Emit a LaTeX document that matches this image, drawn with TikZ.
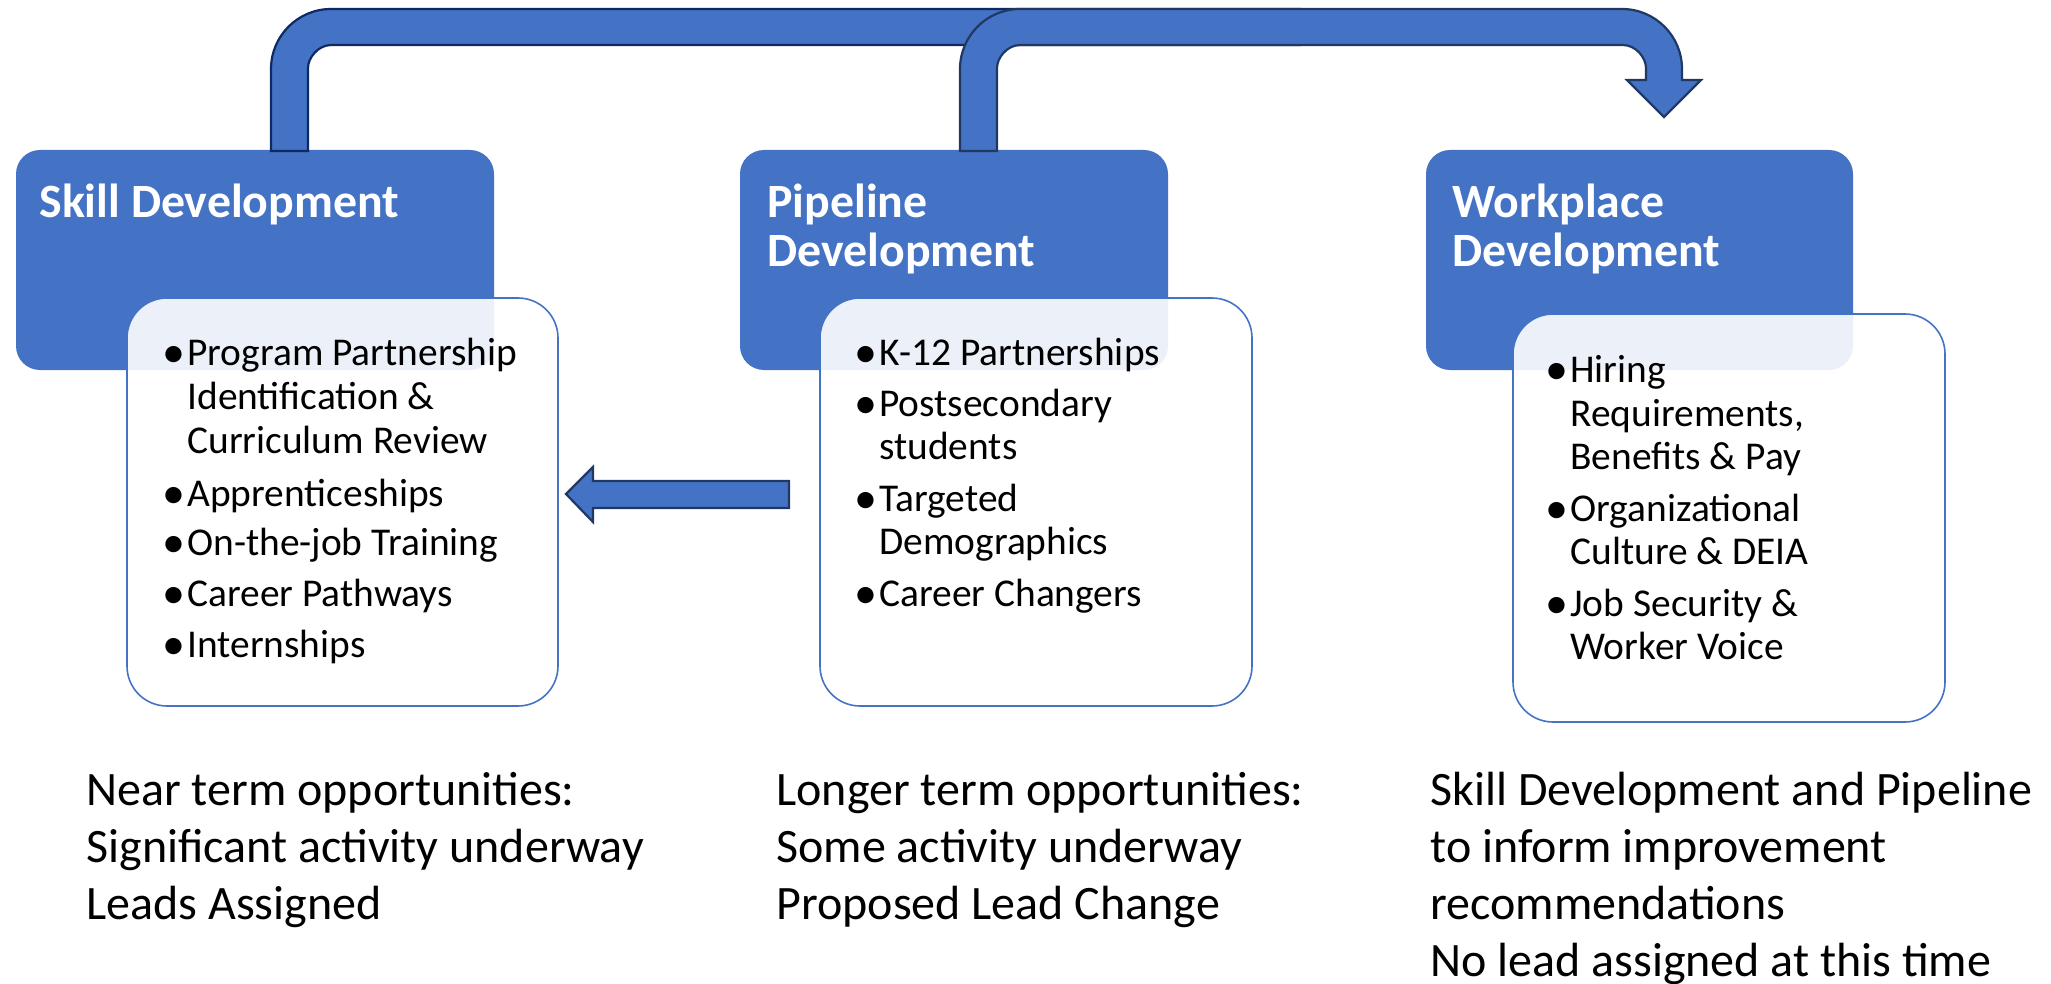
\documentclass[tikz,border=0pt]{standalone}
\usepackage{fontspec}
\setmainfont{Carlito}
\definecolor{blu}{HTML}{4472C4}
\definecolor{navA}{HTML}{0E2A62}
\definecolor{navB}{HTML}{203864}
\tikzset{
  bluebox/.style={rectangle, fill=blu, draw=none, rounded corners=12pt, inner sep=0pt},
  whitebox/.style={rectangle, fill=white, fill opacity=0.9, draw=blu, line width=0.8pt, rounded corners=20pt, inner sep=0pt},
  blockarrow/.style={fill=blu, line width=1.1pt, line join=miter},
  ttl/.style={anchor=base west, inner sep=0pt, text=white, font=\fontsize{23.9}{26}\selectfont\bfseries},
  bul/.style={anchor=base west, inner sep=0pt, font=\fontsize{19.7}{22}\selectfont},
  dot/.style={anchor=base west, inner sep=0pt, font=\fontsize{23}{24}\selectfont},
  note/.style={anchor=base west, inner sep=0pt, font=\fontsize{24}{28}\selectfont}
}
\begin{document}
\begin{tikzpicture}[x=0.5pt,y=-0.5pt]
\useasboundingbox (0,0) rectangle (2051,984);
% blue header boxes
\node[bluebox, minimum width=239pt, minimum height=110pt] (b1) at (255,260) {};
\node[bluebox, minimum width=214pt, minimum height=110pt] (b2) at (954,260) {};
\node[bluebox, minimum width=213.5pt, minimum height=110pt] (b3) at (1639.5,260) {};
% white content boxes
\node[whitebox, minimum width=215.5pt, minimum height=204pt] (w1) at (342.5,502) {};
\node[whitebox, minimum width=216pt, minimum height=204pt] (w2) at (1036,502) {};
\node[whitebox, minimum width=216pt, minimum height=204pt] (w3) at (1729,518) {};
% top bent arrow A (from Skill Development)
\draw[blockarrow, draw=navA] (271,151) -- (271,69) .. controls (271,35.9) and (297.9,9) .. (331,9)
  -- (1300,9) -- (1300,45) -- (331,45) .. controls (318.3,45) and (308,57.7) .. (308,68) -- (308,151) -- cycle;
% top bent arrow B (from Pipeline Development to Workplace Development)
\draw[blockarrow, draw=navB] (960,151) -- (960,69) .. controls (960,35.9) and (986.9,9) .. (1020,9)
  -- (1622,9) .. controls (1655.1,9) and (1682,35.9) .. (1682,69) -- (1682,80) -- (1701,80)
  -- (1664,117) -- (1627,80) -- (1646,80) -- (1646,68) .. controls (1646,57.7) and (1635.7,45) .. (1623,45)
  -- (1020,45) .. controls (1007.3,45) and (997,57.7) .. (997,68) -- (997,151) -- cycle;
% left arrow between boxes
\draw[blockarrow, draw=navB] (566,494) -- (593,467) -- (593,481) -- (789,481) -- (789,508)
  -- (593,508) -- (593,522) -- cycle;
% titles
\node[ttl] (t1) at (39,218) {Skill Development};
\node[ttl] (t2a) at (767,218) {Pipeline};
\node[ttl] (t2b) at (767,267) {Development};
\node[ttl] (t3a) at (1452,218) {Workplace};
\node[ttl] (t3b) at (1452,267) {Development};
% bullets box 1
\node[dot] (d11) at (162,367) {•};
\node[bul] (l11) at (187,365) {Program Partnership};
\node[bul] (l12) at (187,409) {Identification \&};
\node[bul] (l13) at (187,453) {Curriculum Review};
\node[dot] (d12) at (162,508) {•};
\node[bul] (l14) at (187,506) {Apprenticeships};
\node[dot] (d13) at (162,557) {•};
\node[bul] (l15) at (187,555) {On-the-job Training};
\node[dot] (d14) at (162,608) {•};
\node[bul] (l16) at (187,606) {Career Pathways};
\node[dot] (d15) at (162,659) {•};
\node[bul] (l17) at (187,657) {Internships};
% bullets box 2
\node[dot] (d21) at (854,367) {•};
\node[bul] (l21) at (879,365) {K-12 Partnerships};
\node[dot] (d22) at (854,418) {•};
\node[bul] (l22) at (879,416) {Postsecondary};
\node[bul] (l23) at (879,459) {students};
\node[dot] (d23) at (854,513) {•};
\node[bul] (l24) at (879,511) {Targeted};
\node[bul] (l25) at (879,554) {Demographics};
\node[dot] (d24) at (854,608) {•};
\node[bul] (l26) at (879,606) {Career Changers};
% bullets box 3
\node[dot] (d31) at (1545,384) {•};
\node[bul] (l31) at (1570,382) {Hiring};
\node[bul] (l32) at (1570,426) {Requirements,};
\node[bul] (l33) at (1570,469) {Benefits \& Pay};
\node[dot] (d32) at (1545,523) {•};
\node[bul] (l34) at (1570,521) {Organizational};
\node[bul] (l35) at (1570,564) {Culture \& DEIA};
\node[dot] (d33) at (1545,618) {•};
\node[bul] (l36) at (1570,616) {Job Security \&};
\node[bul] (l37) at (1570,659) {Worker Voice};
% notes below
\node[note] (n11) at (86,805) {Near term opportunities:};
\node[note] (n12) at (86,862) {Significant activity underway};
\node[note] (n13) at (86,919) {Leads Assigned};
\node[note] (n21) at (776,805) {Longer term opportunities:};
\node[note] (n22) at (776,862) {Some activity underway};
\node[note] (n23) at (776,919) {Proposed Lead Change};
\node[note] (n31) at (1430,805) {Skill Development and Pipeline};
\node[note] (n32) at (1430,862) {to inform improvement};
\node[note] (n33) at (1430,919) {recommendations};
\node[note] (n34) at (1430,976) {No lead assigned at this time};
\end{tikzpicture}
\end{document}
